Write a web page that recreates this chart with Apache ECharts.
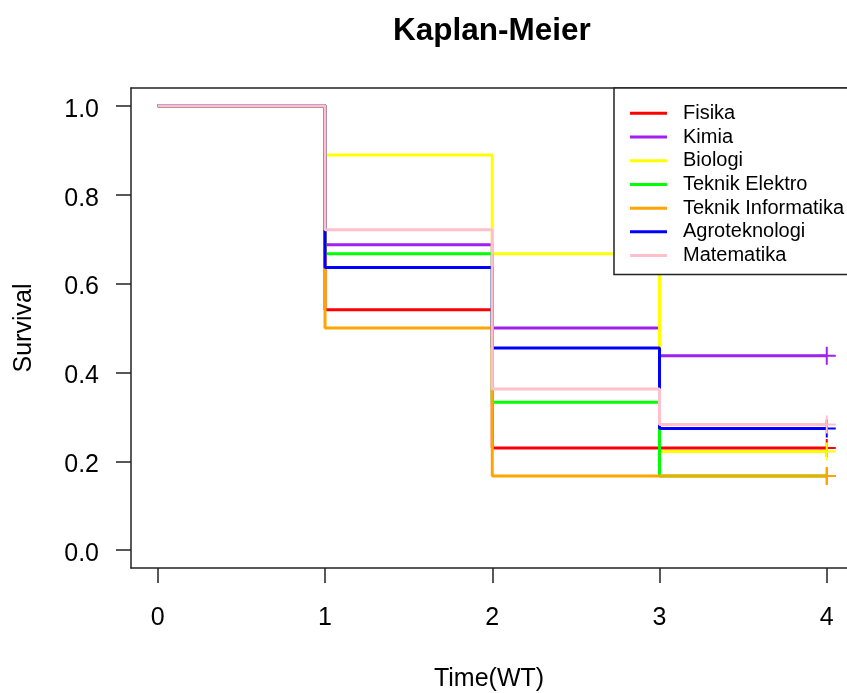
<!DOCTYPE html>
<html>
<head>
<meta charset="UTF-8">
<title>Kaplan-Meier</title>
<style>
  html, body { margin: 0; padding: 0; background: #fff; }
  #main { width: 847px; height: 693px; }
</style>
</head>
<body>
<div id="main"></div>
<script src="https://cdn.jsdelivr.net/npm/echarts@6/dist/echarts.min.js"></script>
<script>
    // survival estimates, one value per time point
    var times = [0, 1, 2, 3, 4];
    var fisika = [1, 0.541, 0.230, 0.230, 0.230];
    var kimia = [1, 0.6875, 0.5, 0.4375, 0.4375];
    var biologi = [1, 0.889, 0.667, 0.222, 0.222];
    var teknikElektro = [1, 0.667, 0.333, 0.167, 0.167];
    var teknikInformatika = [1, 0.5, 0.167, 0.167, 0.167];
    var agroteknologi = [1, 0.636, 0.455, 0.274, 0.274];
    var matematika = [1, 0.721, 0.363, 0.283, 0.283];

    var groupNames = ['Fisika', 'Kimia', 'Biologi', 'Teknik Elektro', 'Teknik Informatika', 'Agroteknologi', 'Matematika'];
    var groupColors = ['#FF0000', '#A020F0', '#FFFF00', '#00FF00', '#FFA500', '#0000FF', '#FFC0CB'];
    var groupValues = [fisika, kimia, biologi, teknikElektro, teknikInformatika, agroteknologi, matematika];

    var xTicks = [0, 1, 2, 3, 4];
    var yTicks = [0, 0.2, 0.4, 0.6, 0.8, 1.0];

    // "+" censor mark
    var plus = 'path://M-0.11,-1 L0.11,-1 L0.11,-0.11 L1,-0.11 L1,0.11 L0.11,0.11 L0.11,1 L-0.11,1 L-0.11,0.11 L-1,0.11 L-1,-0.11 L-0.11,-0.11 Z';

    var font = 'Liberation Sans, Arial, sans-serif';
    var axisColor = '#222';

    var series = groupNames.map(function (name, i) {
        var vals = groupValues[i];
        var data = times.map(function (t, j) {
            var item = { value: [t, vals[j]] };
            if (j < times.length - 1) item.symbol = 'none';
            return item;
        });
        return {
            name: name,
            type: 'line',
            step: 'end',
            symbol: plus,
            symbolSize: 18,
            showAllSymbol: true,
            color: groupColors[i],
            itemStyle: { color: groupColors[i], borderWidth: 0 },
            lineStyle: { color: groupColors[i], width: 3 },
            emphasis: { disabled: true },
            animation: false,
            data: data
        };
    });

    var chart = echarts.init(document.getElementById('main'));

    chart.setOption({
        backgroundColor: '#fff',
        animation: false,
        title: {
            text: 'Kaplan-Meier',
            left: 388,
            top: 10,
            textStyle: { fontFamily: font, fontSize: 31.5, fontWeight: 'bold', color: '#000' }
        },
        legend: {
            orient: 'vertical',
            left: 614,
            top: 88,
            padding: [13.5, 10, 7, 16],
            itemGap: 0,
            itemWidth: 37,
            itemHeight: 3,
            icon: 'rect',
            backgroundColor: '#fff',
            borderColor: axisColor,
            borderWidth: 1.5,
            selectedMode: false,
            textStyle: {
                fontFamily: font,
                fontSize: 20,
                color: '#000',
                lineHeight: 23.7,
                padding: [0, 0, 0, 11]
            },
            data: groupNames
        },
        // plot box runs past the right edge of the picture, as in the original
        grid: {
            left: 131,
            top: 88,
            width: 716,
            height: 480,
            show: false,
            outerBoundsMode: 'none',
            containLabel: false
        },
        xAxis: [{
            type: 'value',
            min: -0.16,
            max: 4.121,
            name: 'Time(WT)',
            nameLocation: 'middle',
            nameGap: 99,
            nameTextStyle: { fontFamily: font, fontSize: 25, color: '#000' },
            axisLine: { show: true, onZero: false, lineStyle: { color: axisColor, width: 1.5 } },
            splitLine: { show: false },
            axisTick: {
                show: true,
                inside: false,
                length: 15,
                customValues: xTicks,
                lineStyle: { color: axisColor, width: 1.5 }
            },
            axisLabel: {
                customValues: xTicks,
                margin: 38,
                fontFamily: font,
                fontSize: 25,
                color: '#000'
            }
        }, {
            type: 'value',
            position: 'top',
            min: -0.16,
            max: 4.121,
            axisLine: { show: true, onZero: false, lineStyle: { color: axisColor, width: 1.5 } },
            splitLine: { show: false },
            axisTick: { show: false },
            axisLabel: { show: false }
        }],
        yAxis: {
            type: 'value',
            min: -0.04,
            max: 1.04,
            name: 'Survival',
            nameLocation: 'middle',
            nameGap: 94,
            nameTextStyle: { fontFamily: font, fontSize: 25, color: '#000' },
            axisLine: { show: true, onZero: false, lineStyle: { color: axisColor, width: 1.5 } },
            splitLine: { show: false },
            axisTick: {
                show: true,
                inside: false,
                length: 15,
                customValues: yTicks,
                lineStyle: { color: axisColor, width: 1.5 }
            },
            axisLabel: {
                customValues: yTicks,
                margin: 32,
                fontFamily: font,
                fontSize: 25,
                color: '#000',
                formatter: function (v) { return '{t|' + v.toFixed(1) + '}'; },
                rich: {
                    t: { fontFamily: font, fontSize: 25, color: '#000', padding: [8, 0, 0, 0] }
                }
            }
        },
        series: series
    });
</script>
</body>
</html>
